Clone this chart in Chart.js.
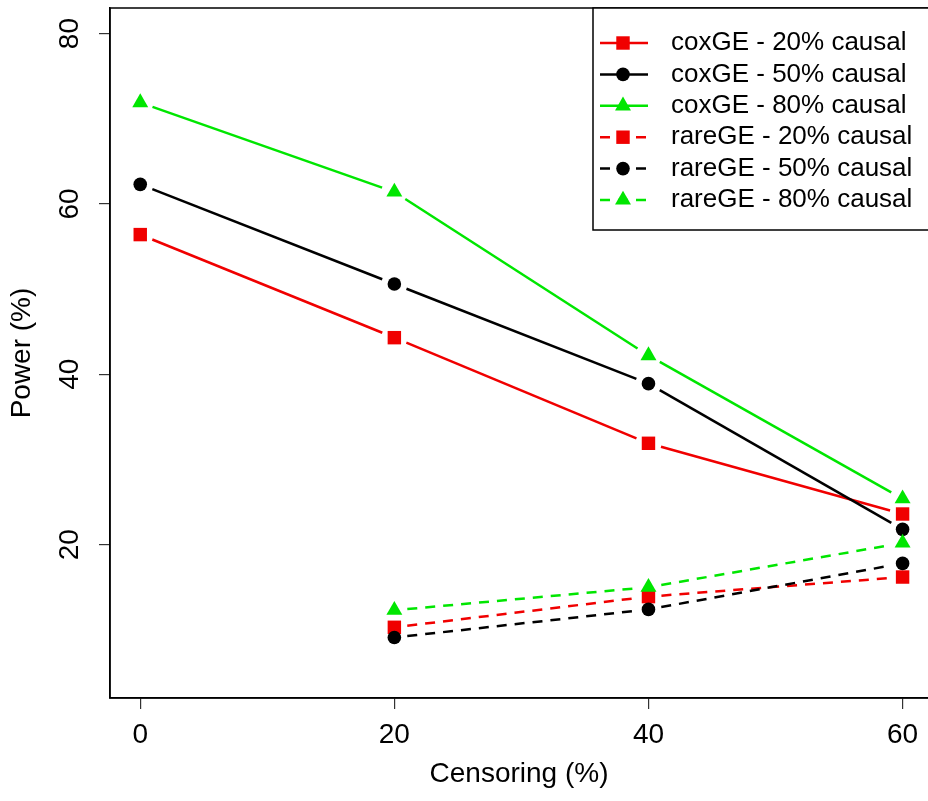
<!DOCTYPE html>
<html>
<head>
<meta charset="utf-8">
<script src="https://cdn.jsdelivr.net/npm/chart.js@4.4.0/dist/chart.umd.min.js"></script>
<style>
  html, body { margin: 0; padding: 0; background: #fff; }
  canvas { display: block; }
</style>
</head>
<body>
<canvas id="chart" width="928" height="801"></canvas>
<script>
// values
const censoring = [0, 20, 40, 60];
const xTicks = [0, 20, 40, 60];
const yTicks = [20, 40, 60, 80];

const coxGE20 = [56.4, 44.3, 31.9, 23.6];
const coxGE50 = [62.3, 50.6, 38.9, 21.8];
const coxGE80 = [71.9, 61.4, 42.2, 25.4];
const rareGE20 = [null, 10.3, 13.9, 16.2];
const rareGE50 = [null, 9.1, 12.4, 17.8];
const rareGE80 = [null, 12.3, 15.0, 20.2];

const FONT = '"Liberation Sans", Arial, sans-serif';
const RED = '#f00000';
const BLACK = '#000000';
const GREEN = '#00e600';
const GAP = 13;          // R type="b" leaves a gap around each point
const DASH = [10, 8];

const series = [
  { label: 'coxGE - 20% causal', values: coxGE20, color: RED, shape: 'rect', r: 9.5, dashed: false },
  { label: 'coxGE - 50% causal', values: coxGE50, color: BLACK, shape: 'circle', r: 6.8, dashed: false },
  { label: 'coxGE - 80% causal', values: coxGE80, color: GREEN, shape: 'triangle', r: 9.2, dashed: false },
  { label: 'rareGE - 20% causal', values: rareGE20, color: RED, shape: 'rect', r: 9.5, dashed: true },
  { label: 'rareGE - 50% causal', values: rareGE50, color: BLACK, shape: 'circle', r: 6.8, dashed: true },
  { label: 'rareGE - 80% causal', values: rareGE80, color: GREEN, shape: 'triangle', r: 9.2, dashed: true }
];

// dash array for one segment: gap, line (solid or dashed), gap
function gapDash(ctx, pattern) {
  const L = Math.hypot(ctx.p1.x - ctx.p0.x, ctx.p1.y - ctx.p0.y);
  const inner = L - 2 * GAP;
  const out = [0, GAP];
  let pos = 0;
  while (pos < inner) {
    const d = Math.min(pattern[0], inner - pos);
    pos += d;
    const s = Math.min(pattern[1], Math.max(inner - pos, 0));
    pos += s;
    out.push(d, s);
  }
  out[out.length - 1] += GAP + 50;
  return out;
}

const datasets = series.map((s, i) => ({
  label: s.label,
  data: censoring.map((x, j) => ({ x: x, y: s.values[j] })),
  borderColor: s.color,
  backgroundColor: s.color,
  borderWidth: 2.5,
  pointStyle: s.shape,
  pointRadius: s.r,
  pointHoverRadius: s.r,
  pointBorderWidth: 0,
  pointBackgroundColor: s.color,
  tension: 0,
  order: series.length - i,
  segment: {
    borderDash: ctx => gapDash(ctx, s.dashed ? DASH : [10000, 0])
  }
}));

const frameAndLegend = {
  id: 'frameAndLegend',
  afterDraw(chart) {
    const { ctx, chartArea: a } = chart;
    ctx.save();
    ctx.strokeStyle = '#000';
    ctx.lineWidth = 1.5;
    ctx.strokeRect(a.left, a.top, a.right - a.left + 10, a.bottom - a.top);

    // legend box in the top right corner
    const bx = a.right - 335, by = a.top, bw = 400, bh = 222;
    ctx.fillStyle = '#fff';
    ctx.fillRect(bx, by, bw, bh);
    ctx.strokeRect(bx, by, bw, bh);

    ctx.font = '26px ' + FONT;
    ctx.textBaseline = 'middle';
    ctx.textAlign = 'left';
    series.forEach((s, i) => {
      const y = by + 35 + i * 31.4;
      ctx.strokeStyle = s.color;
      ctx.lineWidth = 2.5;
      ctx.setLineDash(s.dashed ? DASH : []);
      ctx.beginPath();
      ctx.moveTo(bx + 7, y);
      ctx.lineTo(bx + 55, y);
      ctx.stroke();
      ctx.setLineDash([]);
      ctx.fillStyle = s.color;
      Chart.helpers.drawPoint(ctx, { pointStyle: s.shape, radius: s.r, rotation: 0, borderWidth: 0 }, bx + 30, y);
      ctx.fillStyle = '#000';
      ctx.fillText(s.label, bx + 78, y);
    });
    ctx.restore();
  }
};

new Chart(document.getElementById('chart'), {
  type: 'line',
  data: { datasets: datasets },
  plugins: [frameAndLegend],
  options: {
    responsive: false,
    animation: false,
    events: [],
    layout: { autoPadding: false, padding: { top: 8, left: 0, right: 0, bottom: 0 } },
    plugins: {
      legend: { display: false },
      tooltip: { enabled: false }
    },
    scales: {
      x: {
        type: 'linear',
        min: -2.38,
        max: 62.0,
        afterBuildTicks: s => { s.ticks = xTicks.map(v => ({ value: v })); },
        afterFit: s => { s.height = 103; s.paddingLeft = 0; s.paddingRight = 0; },
        grid: { drawOnChartArea: false, drawTicks: true, tickLength: 11, color: '#333', lineWidth: 1.2 },
        border: { display: true, color: '#000', width: 1.5 },
        ticks: { padding: 9, maxRotation: 0, color: '#000', font: { family: FONT, size: 28 } },
        title: { display: true, text: 'Censoring (%)', color: '#000', font: { family: FONT, size: 28 }, padding: { top: 0, bottom: 10 } }
      },
      y: {
        min: 2,
        max: 83,
        afterBuildTicks: s => { s.ticks = yTicks.map(v => ({ value: v })); },
        afterFit: s => { s.width = 110; s.paddingTop = 0; s.paddingBottom = 0; },
        grid: { drawOnChartArea: false, drawTicks: true, tickLength: 11, color: '#333', lineWidth: 1.2 },
        border: { display: true, color: '#000', width: 1.5 },
        ticks: { minRotation: 90, maxRotation: 90, crossAlign: 'center', padding: 13, color: '#000', font: { family: FONT, size: 28 } },
        title: { display: true, text: 'Power (%)', color: '#000', font: { family: FONT, size: 28 }, padding: { top: 5, bottom: 0 } }
      }
    }
  }
});
</script>
</body>
</html>
